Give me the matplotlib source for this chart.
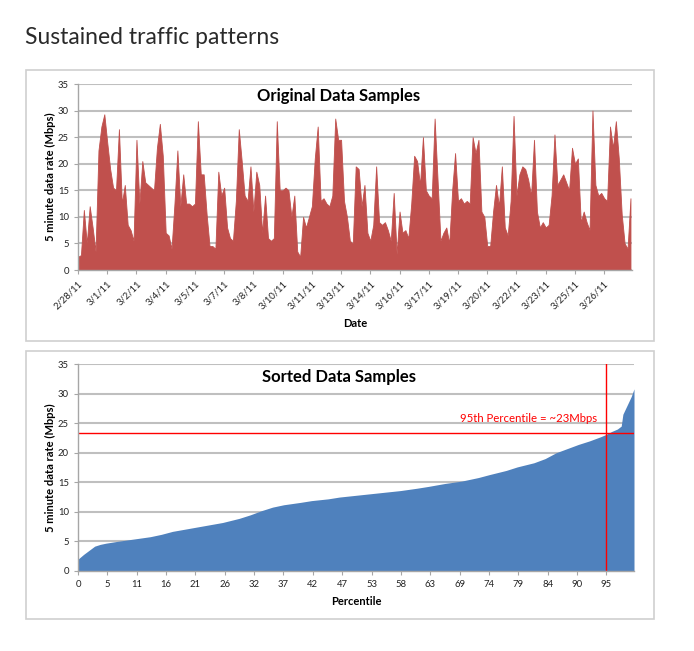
import numpy as np
import matplotlib
matplotlib.use("Agg")
import matplotlib.pyplot as plt
from matplotlib.patches import Rectangle

# top chart: 5 minute samples at 10 points per date tick
date_labels = ["2/28/11", "3/1/11", "3/2/11", "3/4/11", "3/5/11", "3/7/11", "3/8/11",
               "3/10/11", "3/11/11", "3/13/11", "3/14/11", "3/16/11", "3/17/11",
               "3/19/11", "3/20/11", "3/22/11", "3/23/11", "3/25/11", "3/26/11"]
samples_per_tick = 420
points_per_tick = 10
n_samples = 7960
rate_mbps = [
    2.5, 2.8, 11.3, 5, 12, 8, 3.5, 22.5, 27, 29.3,
    24, 19, 15.5, 15, 26.5, 12.5, 16, 8.5, 7.5, 5.5,
    24.5, 12.5, 20.5, 16.5, 16, 15.5, 15, 23, 27.5, 21.5,
    7, 6.5, 4, 12.5, 22.5, 12, 18, 12.5, 12.5, 12,
    12.5, 28, 18, 18, 10.5, 4.5, 4.5, 4, 18.5, 14,
    15.5, 8, 6, 5.5, 13, 26.5, 20.5, 14, 13, 19.5,
    11, 18.5, 16, 7, 14, 6, 5.5, 6, 28, 15,
    15, 15.5, 15, 10, 14, 3.5, 2.5, 10, 8, 10,
    12, 21, 27, 13, 13.5, 12.5, 12, 14, 28.5, 24.5,
    24.5, 13, 10, 5.5, 5, 19.5, 19, 12, 16, 7,
    5.5, 8.5, 19.5, 9, 8.5, 9, 7.5, 5.5, 14.5, 3,
    11, 7, 7.5, 6, 12.5, 21.5, 20.5, 16, 25, 15,
    14, 13.5, 28.5, 17, 5.5, 7, 8, 5, 15, 22,
    13, 13.5, 12.5, 13, 12.5, 25, 22, 24.5, 11, 10,
    4.5, 4.5, 11, 16, 12, 19.5, 8, 6.5, 13, 29,
    14, 18, 19.5, 19, 17, 14, 24.5, 11, 8, 9,
    8, 8.5, 14, 25.5, 16, 17, 18, 16.5, 15, 23,
    20, 21, 9, 11, 9, 7.5, 30, 16, 14, 14.5,
    13.5, 13, 27, 23, 28, 21, 10.5, 5, 4, 13.5,
]

# bottom chart: sorted samples
pct_labels = ["0", "5", "11", "16", "21", "26", "32", "37", "42", "47",
              "53", "58", "63", "69", "74", "79", "84", "90", "95"]
pct_tick_step = 5.28
pct_x = [0, 1, 2, 3, 4, 5, 7, 10, 13, 15, 17, 20, 23, 26, 29, 31, 33, 35, 37, 40,
         42, 45, 47, 50, 53, 55, 58, 61, 63, 66, 69, 72, 74, 77, 79, 82, 84, 86, 88,
         90, 92, 94, 95, 96, 97, 97.7, 98, 98.5, 99, 99.5, 100]
pct_rate = [2.0, 2.8, 3.5, 4.2, 4.5, 4.7, 5.0, 5.4, 5.8, 6.2, 6.7, 7.2, 7.7, 8.2, 8.9,
            9.5, 10.2, 10.8, 11.2, 11.6, 11.9, 12.2, 12.5, 12.8, 13.1, 13.3, 13.6, 14.0,
            14.3, 14.8, 15.2, 15.8, 16.3, 17.0, 17.6, 18.3, 19.0, 20.0, 20.7, 21.4, 22.0,
            22.7, 23.1, 23.6, 24.0, 24.5, 26.5, 27.5, 28.5, 29.5, 30.8]
p95_pct = 95
p95_rate = 23.3

RED = "#C0504D"
BLUE = "#4F81BD"
GRID = "#BFBFBF"
chart_font = ["Lato", "DejaVu Sans"]

fig = plt.figure(figsize=(6.94, 6.51), dpi=100)
W, H = 694, 651

def px_box(x0, y0, x1, y1):
    return [x0 / W, 1 - y1 / H, (x1 - x0) / W, (y1 - y0) / H]

fig.text(25 / W, 1 - 37 / H, "Sustained traffic patterns", fontsize=16.5,
         family=["Lato", "DejaVu Sans"], color="#2a2a2a", va="center")

for y0, y1 in [(70, 341), (351, 619)]:
    fig.patches.append(Rectangle((26 / W, 1 - y1 / H), 628 / W, (y1 - y0) / H,
                                 transform=fig.transFigure, fill=False,
                                 edgecolor="#CFCFCF", linewidth=1.2))


def style_axes(ax):
    ax.set_ylim(0, 35)
    ax.set_yticks(range(0, 36, 5))
    ax.yaxis.grid(True, color=GRID, linewidth=1.5)
    ax.set_axisbelow(True)
    for s in ["top", "right"]:
        ax.spines[s].set_visible(False)
    for s in ["left", "bottom"]:
        ax.spines[s].set_color("#A6A6A6")
        ax.spines[s].set_linewidth(1.0)
    ax.tick_params(axis="both", colors="#A6A6A6", labelcolor="#222222",
                   labelsize=6.8, length=3, width=0.8)
    for t in ax.get_yticklabels() + ax.get_xticklabels():
        t.set_family(chart_font)
    ax.set_ylabel("5 minute data rate (Mbps)", fontsize=8, fontweight="bold",
                  family=chart_font)
    ax.yaxis.set_label_coords(-0.04, 0.5)


# top chart
ax1 = fig.add_axes(px_box(78, 84, 632, 270))
x = np.arange(len(rate_mbps)) * samples_per_tick / points_per_tick
ax1.fill_between(x, rate_mbps, color=RED, linewidth=0.6, edgecolor=RED)
ax1.set_xlim(0, n_samples)
ax1.set_xticks(np.arange(len(date_labels)) * samples_per_tick)
ax1.set_xticklabels(date_labels, rotation=45, ha="right", rotation_mode="anchor")
style_axes(ax1)
ax1.set_xlabel("Date", fontsize=8, fontweight="bold", family=chart_font, labelpad=5)
ax1.text(0.47, 0.935, "Original Data Samples", transform=ax1.transAxes, ha="center",
         va="center", fontsize=12, fontweight="bold", family=chart_font)

# bottom chart
ax2 = fig.add_axes(px_box(78, 364, 634, 571))
ax2.fill_between(pct_x, pct_rate, color=BLUE, linewidth=0)
ax2.set_xlim(0, 100)
ax2.set_xticks(np.arange(len(pct_labels)) * pct_tick_step)
ax2.set_xticklabels(pct_labels)
style_axes(ax2)
ax2.set_xlabel("Percentile", fontsize=8, fontweight="bold", family=chart_font, labelpad=5)
ax2.axhline(p95_rate, color="red", linewidth=1.0)
ax2.axvline(p95_pct, color="red", linewidth=1.0)
ax2.text(93.3, 25.8, "95th Percentile = ~23Mbps", ha="right", va="center",
         color="red", fontsize=8.2, family=chart_font)
ax2.text(0.47, 0.935, "Sorted Data Samples", transform=ax2.transAxes, ha="center",
         va="center", fontsize=12, fontweight="bold", family=chart_font)

fig.savefig("out.png", dpi=100)
